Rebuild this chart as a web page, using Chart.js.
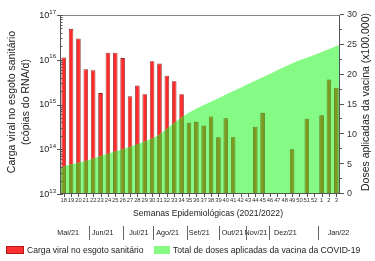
<!DOCTYPE html>
<html>
<head>
<meta charset="utf-8">
<script src="https://cdn.jsdelivr.net/npm/chart.js@4.4.0/dist/chart.umd.min.js"></script>
<style>
body{margin:0;background:#fff;}
</style>
</head>
<body>
<canvas id="mycanvas" width="375" height="261"></canvas>
<script>
// semanas epidemiologicas 18/2021 ... 3/2022
var semanas = ['18','19','20','21','22','23','24','25','26','27','28','29','30','31','32','33','34','35','36','37','38','39','40','41','42','43','44','45','46','47','48','49','50','51','52','1','2','3'];

// carga viral (copias RNA/d), null = sem coleta
var cargaViral = [1.12e16, 4.9e16, 3.0e16, 6.1e15, 5.8e15, 1.8e15, 1.43e16, 1.43e16, 1.09e16, 1.52e15,
	2.65e15, 1.69e15, 9.3e15, 8.2e15, 4.4e15, 3.3e15, 1.69e15,
	3.9e14, 4.1e14, 3.4e14, 5.4e14, 1.85e14, 4.9e14, 1.85e14, null, null,
	3.2e14, 6.5e14, null, null, null, 1.0e14, null, 4.8e14, null,
	5.75e14, 3.6e15, 2.36e15];

// total de doses aplicadas (x100.000)
var doses = [4.4, 4.8, 5.1, 5.4, 5.8, 6.2, 6.6, 7.0, 7.4, 7.8, 8.2, 8.7, 9.2, 9.8, 10.8, 11.8, 12.8,
	13.6, 14.3, 14.9, 15.5, 16.1, 16.7, 17.3, 17.9, 18.5, 19.1, 19.7, 20.3, 20.9, 21.5, 22.1,
	22.6, 23.0, 23.5, 24.0, 24.5, 25.0];

var meses = ['Mai/21','Jun/21','Jul/21','Ago/21','Set/21','Out/21','Nov/21','Dez/21','Jan/22'];
var mesPos = [0.6, 5.3, 10.2, 14.1, 18.4, 22.9, 26.1, 30.1, 37.3];
var mesDiv = [3.4, 8.0, 12.1, 16.7, 21.1, 24.8, 27.9, 34.5];

var expoentes = [13, 14, 15, 16, 17];
var dosesTicks = [0, 5, 10, 15, 20, 25, 30];

var fonte = '"Liberation Sans", Arial, sans-serif';
var corTexto = '#222';
var corEixo = '#555';

function textoVertical(ctx, txt, x, y, size){
	ctx.save();
	ctx.translate(x, y);
	ctx.rotate(-Math.PI/2);
	ctx.font = size + 'px ' + fonte;
	ctx.textAlign = 'center';
	ctx.textBaseline = 'middle';
	ctx.fillText(txt, 0, 0);
	ctx.restore();
}

function linha(ctx, x1, y1, x2, y2){
	ctx.beginPath();
	ctx.moveTo(x1, y1);
	ctx.lineTo(x2, y2);
	ctx.stroke();
}

var extras = {
	id: 'extras',
	beforeDatasetDraw: function(chart, args){
		if (args.index !== 2) return;
		// barras sob a area verde ficam oliva
		var ctx = chart.ctx;
		var pts = chart.getDatasetMeta(1).data;
		var ca = chart.chartArea;
		ctx.save();
		ctx.beginPath();
		ctx.moveTo(pts[0].x, ca.bottom);
		for (var i = 0; i < pts.length; i++) ctx.lineTo(pts[i].x, pts[i].y);
		ctx.lineTo(pts[pts.length-1].x, ca.bottom);
		ctx.closePath();
		ctx.clip();
	},
	afterDatasetDraw: function(chart, args){
		if (args.index === 2) chart.ctx.restore();
	},
	afterDraw: function(chart){
		var ctx = chart.ctx;
		var ca = chart.chartArea;
		var sx = chart.scales.x, sy = chart.scales.y, sy2 = chart.scales.y2;
		var i, m, v, yy, xx;
		ctx.save();
		ctx.lineWidth = 1;
		// moldura
		ctx.strokeStyle = '#888';
		linha(ctx, ca.left, ca.top + 0.5, ca.right, ca.top + 0.5);
		ctx.strokeStyle = corEixo;
		linha(ctx, ca.left + 0.5, ca.top, ca.left + 0.5, ca.bottom);
		linha(ctx, ca.right - 0.5, ca.top, ca.right - 0.5, ca.bottom);
		linha(ctx, ca.left, ca.bottom - 0.5, ca.right, ca.bottom - 0.5);

		// ticks eixo log
		for (i = 0; i < expoentes.length; i++){
			for (m = 1; m <= 9; m++){
				if (i === expoentes.length - 1 && m > 1) break;
				v = m * Math.pow(10, expoentes[i]);
				yy = Math.round(sy.getPixelForValue(v)) + 0.5;
				if (m === 1) linha(ctx, ca.left - 3, yy, ca.left + 3, yy);
				else linha(ctx, ca.left, yy, ca.left + 2.5, yy);
			}
		}
		// ticks eixo direito
		for (v = 0; v <= 30; v += 2.5){
			yy = Math.round(sy2.getPixelForValue(v)) - 0.5;
			linha(ctx, ca.right, yy, ca.right + (v % 5 === 0 ? 4 : 2), yy);
		}
		// ticks eixo x
		for (i = 0; i < semanas.length; i++){
			xx = Math.round(sx.getPixelForValue(i)) + 0.5;
			linha(ctx, xx, ca.bottom, xx, ca.bottom + 3);
		}

		// rotulos 10^n
		ctx.fillStyle = corTexto;
		ctx.textBaseline = 'middle';
		for (i = 0; i < expoentes.length; i++){
			yy = sy.getPixelForValue(Math.pow(10, expoentes[i]));
			ctx.textAlign = 'right';
			ctx.font = '6px ' + fonte;
			ctx.fillText(String(expoentes[i]), 56, yy - 3);
			var w = ctx.measureText(String(expoentes[i])).width;
			ctx.font = '9px ' + fonte;
			ctx.fillText('10', 56 - w, yy + 0.5);
		}

		// titulos
		textoVertical(ctx, 'Carga viral no esgoto sanitário', 12.5, 102, 10.5);
		textoVertical(ctx, '(cópias do RNA/d)', 26.5, 102, 10.5);
		textoVertical(ctx, 'Doses aplicadas da vacina (x100.000)', 366, 102, 10.5);
		ctx.textAlign = 'center';
		ctx.font = '8.6px ' + fonte;
		ctx.fillText('Semanas Epidemiológicas (2021/2022)', 208, 214);

		// meses
		ctx.font = '7.2px ' + fonte;
		for (i = 0; i < meses.length; i++){
			ctx.fillText(meses[i], sx.getPixelForValue(mesPos[i]), 233);
		}
		ctx.strokeStyle = '#666';
		for (i = 0; i < mesDiv.length; i++){
			xx = Math.round(sx.getPixelForValue(mesDiv[i])) + 0.5;
			linha(ctx, xx, 226, xx, 240);
		}

		// legenda
		ctx.fillStyle = '#ff3030';
		ctx.fillRect(6, 246, 18, 8);
		ctx.strokeStyle = '#b01818';
		ctx.strokeRect(6.5, 246.5, 17, 7);
		ctx.fillStyle = '#85fb85';
		ctx.fillRect(154, 246, 16, 8);
		ctx.fillStyle = corTexto;
		ctx.textAlign = 'left';
		ctx.font = '8.6px ' + fonte;
		ctx.fillText('Carga viral no esgoto sanitário', 27, 250.5);
		ctx.fillText('Total de doses aplicadas da vacina da COVID-19', 173, 250.5);
		ctx.restore();
	}
};

var chartdata = {
	labels: semanas,
	datasets: [
		{
			type: 'bar',
			label: 'Carga viral no esgoto sanitário',
			data: cargaViral,
			xAxisID: 'x',
			yAxisID: 'y',
			order: 3,
			grouped: false,
			barPercentage: 0.62,
			categoryPercentage: 1,
			backgroundColor: '#ff2b2b',
			borderColor: '#8a2222',
			borderWidth: 0.8
		},
		{
			type: 'line',
			label: 'Total de doses aplicadas da vacina da COVID-19',
			data: doses,
			xAxisID: 'x2',
			yAxisID: 'y2',
			order: 2,
			fill: 'origin',
			backgroundColor: '#85fb85',
			borderWidth: 0,
			pointRadius: 0,
			tension: 0
		},
		{
			type: 'bar',
			label: 'oliva',
			data: cargaViral,
			xAxisID: 'x',
			yAxisID: 'y',
			order: 1,
			grouped: false,
			barPercentage: 0.62,
			categoryPercentage: 1,
			backgroundColor: '#7c9a22',
			borderColor: '#5b6f14',
			borderWidth: 0.8
		}
	]
};

var ctx = document.getElementById('mycanvas');
var grafico = new Chart(ctx, {
	data: chartdata,
	plugins: [extras],
	options: {
		responsive: false,
		animation: false,
		events: [],
		layout: { padding: { top: 15, left: 0, right: 0, bottom: 0 } },
		plugins: { legend: { display: false }, tooltip: { enabled: false } },
		scales: {
			x: {
				type: 'category',
				offset: true,
				grid: { display: false, drawTicks: false },
				border: { display: false },
				ticks: { autoSkip: false, maxRotation: 0, minRotation: 0, padding: 3, color: '#333', font: { size: 5.8, family: fonte } },
				afterFit: function(s){ s.height = 67; }
			},
			x2: { type: 'category', labels: semanas, offset: false, display: false },
			y: {
				type: 'logarithmic',
				position: 'left',
				min: 1e13,
				max: 1e17,
				grid: { display: false, drawTicks: false },
				border: { display: false },
				ticks: { display: false },
				afterFit: function(s){ s.width = 60; }
			},
			y2: {
				type: 'linear',
				position: 'right',
				min: 0,
				max: 30,
				grid: { display: false, drawTicks: false },
				border: { display: false },
				ticks: { stepSize: 5, padding: 7, color: '#333', font: { size: 9, family: fonte } },
				afterFit: function(s){ s.width = 35; }
			}
		}
	}
});
</script>
</body>
</html>
